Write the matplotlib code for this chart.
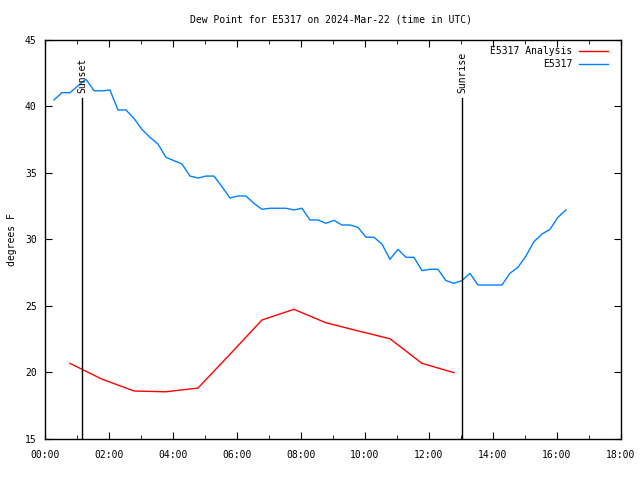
import matplotlib
matplotlib.use("Agg")
import matplotlib.pyplot as plt
import numpy as np

plt.rcParams['font.family'] = ['DejaVu Sans Mono']
FS = 7.0

title = "Dew Point for E5317 on 2024-Mar-22 (time in UTC)"
ylabel = "degrees F"

obs_t = [0.28, 0.53, 0.78, 1.03, 1.28, 1.53, 1.78, 2.03, 2.28, 2.53, 2.78, 3.03, 3.28,
         3.53, 3.78, 4.03, 4.28, 4.53, 4.78, 5.03, 5.28, 5.53, 5.78, 6.03, 6.28, 6.53,
         6.78, 7.03, 7.28, 7.53, 7.78, 8.03, 8.28, 8.53, 8.78, 9.03, 9.28, 9.53, 9.78,
         10.03, 10.28, 10.53, 10.78, 11.03, 11.28, 11.53, 11.78, 12.03, 12.28, 12.53,
         12.78, 13.03, 13.28, 13.53, 13.78, 14.03, 14.28, 14.53, 14.78, 15.03, 15.28,
         15.53, 15.78, 16.03, 16.28]
obs_v = [40.49, 41.04, 41.04, 41.55, 42.05, 41.19, 41.17, 41.24, 39.74, 39.74, 39.11,
         38.28, 37.68, 37.18, 36.18, 35.93, 35.68, 34.77, 34.62, 34.77, 34.77, 33.97,
         33.12, 33.27, 33.27, 32.72, 32.27, 32.35, 32.35, 32.35, 32.22, 32.35, 31.47,
         31.47, 31.22, 31.44, 31.09, 31.09, 30.92, 30.17, 30.17, 29.66, 28.51, 29.26,
         28.66, 28.66, 27.66, 27.76, 27.76, 26.91, 26.71, 26.91, 27.46, 26.58, 26.58,
         26.58, 26.58, 27.46, 27.91, 28.76, 29.84, 30.41, 30.76, 31.67, 32.22]

ana_t = [0.78, 1.78, 2.78, 3.78, 4.78, 5.78, 6.78, 7.78, 8.78, 9.78, 10.78, 11.78, 12.78]
ana_v = [20.69, 19.50, 18.61, 18.55, 18.83, 21.37, 23.95, 24.75, 23.74, 23.13, 22.54,
         20.69, 19.99]

sunset_t = 1.156
sunrise_t = 13.03
xticks = [0, 2, 4, 6, 8, 10, 12, 14, 16, 18]
xticklabels = ["%02d:00" % h for h in xticks]
yticks = [15, 20, 25, 30, 35, 40, 45]

fig = plt.figure(figsize=(6.4, 4.8), dpi=100)
ax = fig.add_axes([45/640, 1-439/480, (621-45)/640, (439-40)/480])

ax.plot(ana_t, ana_v, color='#ff0000', lw=1.0, label='E5317 Analysis')
ax.plot(obs_t, obs_v, color='#0080ff', lw=1.0, label='E5317')

ax.set_xlim(0, 18)
ax.set_ylim(15, 45)
ax.set_xticks(xticks)
ax.set_xticklabels(xticklabels)
ax.set_xticks(np.arange(1, 18, 2), minor=True)
ax.set_yticks(yticks)
ax.tick_params(direction='in', which='both', top=True, right=True, labelsize=FS)
ax.tick_params(axis='x', which='major', length=5, pad=8)
ax.tick_params(axis='y', which='major', length=5, pad=6)
ax.tick_params(which='minor', length=3)
for s in ax.spines.values():
    s.set_linewidth(1.0)

# sunset/sunrise lines
ytop = 45 - (98 - 40) / (399 / 30)
ax.plot([sunset_t, sunset_t], [15, ytop], color='black', lw=1.0)
ax.plot([sunrise_t, sunrise_t], [15, ytop], color='black', lw=1.0)
ylab = 45 - (93 - 40) / (399 / 30)
ax.text(sunset_t, ylab, "Sunset", rotation=90, ha='center', va='bottom', fontsize=FS)
ax.text(sunrise_t, ylab, "Sunrise", rotation=90, ha='center', va='bottom', fontsize=FS)

fig.text(331.5/640, 1 - 20/480, title, fontsize=FS, ha='center', va='center')
ax.set_ylabel(ylabel, fontsize=FS)
ax.yaxis.set_label_coords((17 - 45) / 576, 0.5)

leg = ax.legend(loc='upper right', frameon=False, fontsize=FS, markerfirst=False,
                handlelength=3.0, handletextpad=0.7, borderaxespad=0.0, borderpad=0.3,
                labelspacing=0.35, bbox_to_anchor=(1.0 - 10/576, 1.0 - 3/399))
for t in leg.get_texts():
    t.set_ha('right')

fig.savefig("out.png", dpi=100)
